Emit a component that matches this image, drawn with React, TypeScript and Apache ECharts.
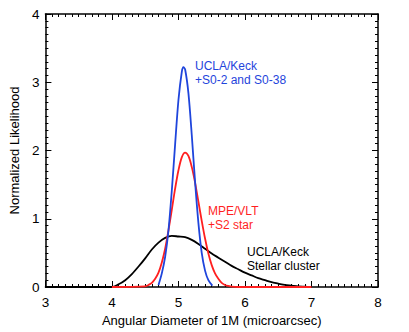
import React, { useEffect, useRef } from "react";
import * as echarts from "echarts";

const xTicks = [3, 4, 5, 6, 7, 8];
const yTicks = [0, 1, 2, 3, 4];

const blueX = [4.70, 4.75, 4.80, 4.85, 4.90, 4.95, 5.00, 5.05, 5.075, 5.10, 5.15, 5.20, 5.25, 5.30, 5.35, 5.40, 5.45, 5.51];
const blueY = [0.03, 0.20, 0.44, 0.83, 1.41, 2.09, 2.74, 3.15, 3.22, 3.19, 2.84, 2.23, 1.54, 0.94, 0.50, 0.24, 0.10, 0.02];

const redX = [4.00, 4.50, 4.55, 4.60, 4.65, 4.70, 4.75, 4.80, 4.85, 4.90, 4.95, 5.00, 5.05, 5.10, 5.15, 5.20, 5.25, 5.30, 5.35, 5.40, 5.45, 5.50, 5.55, 5.60, 5.65, 5.70, 5.75, 5.80, 5.90, 7.00];
const redY = [0.00, 0.01, 0.03, 0.06, 0.12, 0.21, 0.36, 0.56, 0.83, 1.13, 1.44, 1.71, 1.90, 1.97, 1.92, 1.76, 1.53, 1.25, 0.97, 0.71, 0.49, 0.32, 0.20, 0.12, 0.06, 0.03, 0.015, 0.005, 0.00, 0.00];

const blackX = [3.0, 4.0, 4.1, 4.2, 4.3, 4.4, 4.5, 4.6, 4.7, 4.8, 4.9, 5.0, 5.1, 5.2, 5.3, 5.4, 5.5, 5.6, 5.7, 5.8, 5.9, 6.0, 6.1, 6.2, 6.3, 6.4, 6.5, 6.6, 6.7, 6.8, 6.9, 7.0];
const blackY = [0.0, 0.0, 0.04, 0.10, 0.19, 0.30, 0.42, 0.55, 0.65, 0.72, 0.75, 0.74, 0.73, 0.69, 0.63, 0.56, 0.49, 0.43, 0.37, 0.31, 0.26, 0.21, 0.17, 0.13, 0.10, 0.07, 0.05, 0.03, 0.02, 0.01, 0.005, 0.0];

const seriesNames = ["UCLA/Keck +S0-2 and S0-38", "MPE/VLT +S2 star", "UCLA/Keck Stellar cluster"];
const blueLabel = ["UCLA/Keck", "+S0-2 and S0-38"];
const redLabel = ["MPE/VLT", "+S2 star"];
const blackLabel = ["UCLA/Keck", "Stellar cluster"];

const FONT = "Liberation Sans, Arial, sans-serif";
const BLUE = "#1f45dc";
const RED = "#ff1f1f";

const pairs = (xs: number[], ys: number[]) => xs.map((x, i) => [x, ys[i]]);

export default function App() {
  const ref = useRef<HTMLDivElement>(null);
  useEffect(() => {
    const chart = echarts.init(ref.current!, null, { renderer: "svg" });
    const axisLine = { show: true, onZero: false, lineStyle: { color: "#000", width: 1.5 } };
    const axisTick = { show: true, inside: true, length: 6, lineStyle: { color: "#000", width: 1 } };
    const minorTick = { show: true, splitNumber: 10, length: 3, lineStyle: { color: "#000", width: 1 } };
    const xBase = {
      type: "value",
      min: xTicks[0],
      max: xTicks[xTicks.length - 1],
      interval: 1,
      axisLine,
      axisTick,
      minorTick,
      splitLine: { show: false },
    };
    const yBase = {
      type: "value",
      min: yTicks[0],
      max: yTicks[yTicks.length - 1],
      interval: 1,
      axisLine,
      axisTick,
      minorTick,
      splitLine: { show: false },
    };
    chart.setOption({
      animation: false,
      backgroundColor: "#fff",
      grid: { left: 41, top: 14, right: 31, bottom: 43, containLabel: false },
      xAxis: [
        {
          ...xBase,
          position: "bottom",
          axisLabel: { color: "#000", fontSize: 13.5, margin: 8, fontFamily: FONT },
          name: "Angular Diameter of 1M (microarcsec)",
          nameLocation: "middle",
          nameGap: 27,
          nameTextStyle: { color: "#000", fontSize: 13, fontFamily: FONT },
        },
        { ...xBase, position: "top", axisLabel: { show: false } },
      ],
      yAxis: [
        {
          ...yBase,
          position: "left",
          axisLabel: { color: "#000", fontSize: 13.5, margin: 6, fontFamily: FONT },
          name: "Normalized Likelihood",
          nameLocation: "middle",
          nameGap: 24,
          nameTextStyle: { color: "#000", fontSize: 13, fontFamily: FONT },
        },
        { ...yBase, position: "right", axisLabel: { show: false } },
      ],
      series: [
        {
          name: seriesNames[2],
          type: "line",
          xAxisIndex: 0,
          yAxisIndex: 0,
          data: pairs(blackX, blackY),
          showSymbol: false,
          smooth: 0.3,
          lineStyle: { color: "#000", width: 1.8 },
          z: 3,
        },
        {
          name: seriesNames[1],
          type: "line",
          xAxisIndex: 0,
          yAxisIndex: 0,
          data: pairs(redX, redY),
          showSymbol: false,
          smooth: 0.3,
          lineStyle: { color: RED, width: 1.8 },
          z: 4,
        },
        {
          name: seriesNames[0],
          type: "line",
          xAxisIndex: 0,
          yAxisIndex: 0,
          data: pairs(blueX, blueY),
          showSymbol: false,
          smooth: 0.3,
          lineStyle: { color: BLUE, width: 1.8 },
          z: 5,
        },
      ],
      graphic: [
        {
          type: "text",
          left: 195,
          top: 59,
          style: { text: blueLabel.join("\n"), fill: BLUE, font: `12px ${FONT}`, lineHeight: 14 },
        },
        {
          type: "text",
          left: 208,
          top: 204,
          style: { text: redLabel.join("\n"), fill: RED, font: `12px ${FONT}`, lineHeight: 14 },
        },
        {
          type: "text",
          left: 247,
          top: 245,
          style: { text: blackLabel.join("\n"), fill: "#000", font: `12px ${FONT}`, lineHeight: 14 },
        },
      ],
    });
    return () => chart.dispose();
  }, []);
  return <div ref={ref} style={{ position: "fixed", left: 0, top: 0, width: 409, height: 332 }} />;
}
